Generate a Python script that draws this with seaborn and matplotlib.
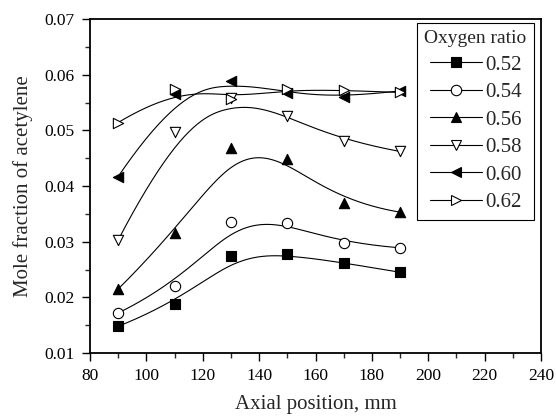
import numpy as np
import pandas as pd
import seaborn as sns
import matplotlib.pyplot as plt
from matplotlib.lines import Line2D
from matplotlib.ticker import MultipleLocator, FormatStrFormatter

# axial position of the sampling points (mm)
position = [90, 110, 130, 150, 170, 190]

# mole fraction of acetylene for each oxygen ratio
ratios = ["0.52", "0.54", "0.56", "0.58", "0.60", "0.62"]
c2h2_052 = [0.0148, 0.0188, 0.0274, 0.0278, 0.0262, 0.0245]
c2h2_054 = [0.0172, 0.0221, 0.0336, 0.0334, 0.0297, 0.0289]
c2h2_056 = [0.0215, 0.0315, 0.0468, 0.0448, 0.0370, 0.0353]
c2h2_058 = [0.0303, 0.0497, 0.0558, 0.0526, 0.0481, 0.0462]
c2h2_060 = [0.0417, 0.0566, 0.0588, 0.0567, 0.0559, 0.0571]
c2h2_062 = [0.0514, 0.0575, 0.0557, 0.0574, 0.0572, 0.0568]
series = [c2h2_052, c2h2_054, c2h2_056, c2h2_058, c2h2_060, c2h2_062]

markers = ["s", "o", "^", "v", "<", ">"]
faces = ["black", "white", "black", "white", "black", "white"]


def bspline(px, py, n=200, k=3):
    # clamped B-spline using the measured points as control points
    px = np.asarray(px, float)
    py = np.asarray(py, float)
    m = len(px)
    knots = np.concatenate([np.zeros(k), np.linspace(0, 1, m - k + 1), np.ones(k)])
    t = np.linspace(0, 1, n)
    t[-1] -= 1e-9
    B = np.zeros((n, len(knots) - 1))
    for i in range(len(knots) - 1):
        B[:, i] = (knots[i] <= t) & (t < knots[i + 1])
    for d in range(1, k + 1):
        Bn = np.zeros((n, len(knots) - 1 - d))
        for i in range(len(knots) - 1 - d):
            a = knots[i + d] - knots[i]
            b = knots[i + d + 1] - knots[i + 1]
            left = (t - knots[i]) / a * B[:, i] if a > 0 else 0
            right = (knots[i + d + 1] - t) / b * B[:, i + 1] if b > 0 else 0
            Bn[:, i] = left + right
        B = Bn
    return B @ px, B @ py


sns.set_style("ticks")
plt.rcParams["font.family"] = ["Liberation Serif"]

fig = plt.figure(figsize=(5.56, 4.19), dpi=100)
ax = fig.add_axes([90 / 556, 1 - 353 / 419, 451 / 556, 334 / 419])

handles = []
for lab, vals, mk, fc in zip(ratios, series, markers, faces):
    cx, cy = bspline(position, vals)
    curve = pd.DataFrame({"x": cx, "y": cy})
    sns.lineplot(data=curve, x="x", y="y", ax=ax, color="black", lw=0.8,
                 sort=False, estimator=None, zorder=2)
    pts = pd.DataFrame({"x": position, "y": vals})
    sns.scatterplot(data=pts, x="x", y="y", ax=ax, marker=mk, s=55,
                    color=fc, edgecolor="black", linewidth=0.8, zorder=3)
    handles.append(Line2D([], [], color="black", lw=0.8, marker=mk, mfc=fc,
                          mec="black", ms=7.5, mew=0.8, label=lab))

ax.set_xlim(80, 240)
ax.set_ylim(0.01, 0.07)
ax.xaxis.set_major_locator(MultipleLocator(20))
ax.xaxis.set_minor_locator(MultipleLocator(10))
ax.yaxis.set_major_locator(MultipleLocator(0.01))
ax.yaxis.set_minor_locator(MultipleLocator(0.005))
ax.yaxis.set_major_formatter(FormatStrFormatter("%.2f"))
ax.tick_params(which="major", direction="out", length=6, width=1, labelsize=12.5,
               colors="black", pad=5)
ax.tick_params(which="minor", direction="out", length=3.5, width=1)
for s in ax.spines.values():
    s.set_visible(True)
    s.set_linewidth(1.3)
    s.set_color("black")

ax.set_xlabel("Axial position, mm", fontsize=15, labelpad=8)
ax.set_ylabel("Mole fraction of acetylene", fontsize=15, labelpad=8)

leg = ax.legend(handles=handles, title="Oxygen ratio", loc="upper right",
                bbox_to_anchor=((534 - 90) / 451, (353 - 23) / 334),
                borderaxespad=0, fontsize=15, title_fontsize=14,
                fancybox=False, framealpha=1, edgecolor="black",
                handlelength=2.5, handletextpad=0.15, labelspacing=0.38,
                borderpad=0.35)
leg.get_frame().set_linewidth(0.8)

fig.savefig("out.png", dpi=100)
